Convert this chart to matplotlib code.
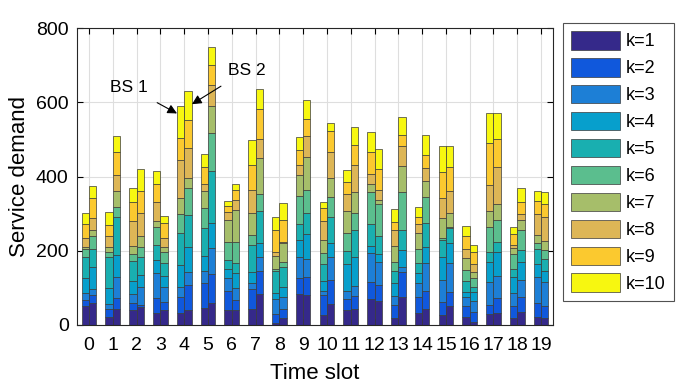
import numpy as np
import matplotlib
matplotlib.use('Agg')
from matplotlib import pyplot as plt

plt.rcParams['font.family'] = ['Liberation Sans', 'DejaVu Sans']

slots = list(range(20))
labels = ['k=%d' % i for i in range(1, 11)]
colors = ['#35298a', '#1058dc', '#1d7fd6', '#079fcc', '#19afb0',
          '#5bbe8e', '#a6be6a', '#ddb656', '#fbc92f', '#f7f710']

# demand per time slot, columns k=1..10
bs1 = [
    [51, 16, 20, 39, 58, 22, 4, 23, 39, 31],
    [22, 22, 12, 43, 85, 12, 15, 29, 29, 36],
    [40, 18, 25, 35, 54, 18, 23, 67, 52, 38],
    [31, 41, 67, 36, 40, 48, 17, 50, 49, 35],
    [31, 43, 29, 58, 86, 53, 43, 101, 61, 85],
    [45, 67, 34, 41, 73, 56, 45, 18, 47, 36],
    [40, 51, 35, 24, 25, 49, 59, 22, 15, 15],
    [42, 54, 18, 30, 71, 27, 61, 60, 68, 67],
    [4, 25, 40, 18, 59, 4, 36, 10, 60, 34],
    [83, 43, 56, 47, 43, 76, 57, 27, 39, 36],
    [27, 54, 10, 27, 45, 30, 36, 51, 34, 16],
    [40, 29, 22, 72, 36, 50, 59, 45, 33, 31],
    [70, 45, 78, 20, 58, 88, 20, 27, 59, 55],
    [18, 36, 24, 34, 33, 24, 44, 44, 21, 34],
    [31, 45, 36, 27, 27, 40, 41, 25, 18, 28],
    [27, 36, 58, 63, 45, 4, 54, 54, 70, 72],
    [21, 30, 23, 16, 29, 29, 33, 23, 36, 27],
    [29, 25, 63, 53, 26, 67, 45, 69, 112, 81],
    [20, 32, 33, 45, 22, 39, 17, 7, 29, 19],
    [21, 37, 72, 33, 41, 18, 20, 58, 34, 28],
]
bs2 = [
    [58, 23, 15, 59, 49, 36, 17, 30, 56, 32],
    [42, 30, 58, 58, 104, 26, 43, 44, 61, 43],
    [49, 5, 49, 32, 49, 27, 29, 63, 58, 58],
    [40, 23, 40, 30, 33, 30, 15, 22, 41, 19],
    [40, 68, 36, 67, 85, 72, 29, 80, 76, 77],
    [58, 78, 72, 66, 141, 103, 71, 59, 53, 48],
    [40, 27, 32, 40, 27, 58, 87, 25, 29, 16],
    [83, 63, 36, 40, 86, 46, 95, 52, 82, 52],
    [20, 22, 34, 27, 54, 13, 50, 4, 60, 45],
    [81, 49, 49, 65, 59, 62, 88, 56, 47, 49],
    [57, 64, 61, 40, 68, 55, 52, 69, 57, 22],
    [43, 35, 27, 77, 74, 46, 57, 72, 55, 48],
    [65, 43, 61, 22, 49, 85, 11, 27, 56, 54],
    [74, 68, 15, 45, 55, 102, 69, 54, 31, 48],
    [42, 50, 74, 45, 64, 69, 44, 36, 35, 53],
    [51, 37, 78, 56, 39, 4, 38, 58, 65, 57],
    [9, 27, 29, 23, 13, 25, 18, 19, 33, 19],
    [33, 39, 61, 63, 28, 60, 43, 99, 76, 70],
    [34, 42, 45, 48, 33, 54, 28, 14, 32, 40],
    [18, 34, 65, 29, 33, 23, 24, 66, 33, 33],
]

fig = plt.figure(figsize=(6.76, 3.85), dpi=100)
ax = fig.add_axes([0.114, 0.156, 0.704, 0.771])

x = np.array(slots)
w = 0.31
for d, off in ((np.array(bs1), -w / 2), (np.array(bs2), w / 2)):
    bottom = np.zeros(len(slots))
    for k in range(10):
        ax.bar(x + off, d[:, k], w, bottom=bottom, color=colors[k],
               edgecolor='#3a3a3a', linewidth=0.5,
               label=labels[k] if off < 0 else None, zorder=2)
        bottom += d[:, k]

ax.set_xlim(-0.5, 19.5)
ax.set_ylim(0, 800)
ax.set_xticks(slots)
ax.set_yticks([0, 200, 400, 600, 800])
ax.tick_params(labelsize=14, direction='in', top=True, right=True, length=4)
ax.tick_params(axis='x', pad=9)
ax.tick_params(axis='y', pad=6)
ax.grid(True, color='#dedede', linewidth=0.8, zorder=0)
ax.set_axisbelow(True)
for s in ax.spines.values():
    s.set_color('#262626')
    s.set_linewidth(0.8)
ax.set_xlabel('Time slot', fontsize=16, labelpad=6)
ax.set_ylabel('Service demand', fontsize=16, labelpad=4)

ax.annotate('BS 1', xy=(3.7, 570), xytext=(1.66, 641), fontsize=12.5,
            ha='center', va='center',
            arrowprops=dict(arrowstyle='-|>', color='k', lw=0.8,
                            mutation_scale=14, shrinkA=8, shrinkB=0))
ax.annotate('BS 2', xy=(4.33, 595), xytext=(6.64, 687), fontsize=12.5,
            ha='center', va='center',
            arrowprops=dict(arrowstyle='-|>', color='k', lw=0.8,
                            mutation_scale=14, shrinkA=8, shrinkB=0))

leg = ax.legend(loc='upper left', bbox_to_anchor=(563 / 676, 1 - 23 / 385),
                bbox_transform=fig.transFigure, fontsize=13, frameon=True,
                fancybox=False, handlelength=2.7, handleheight=1.2,
                labelspacing=0.42, borderaxespad=0, handletextpad=0.35,
                borderpad=0.45)
leg.get_frame().set_edgecolor('#262626')
leg.get_frame().set_linewidth(0.8)

fig.savefig('out.png', dpi=100)
